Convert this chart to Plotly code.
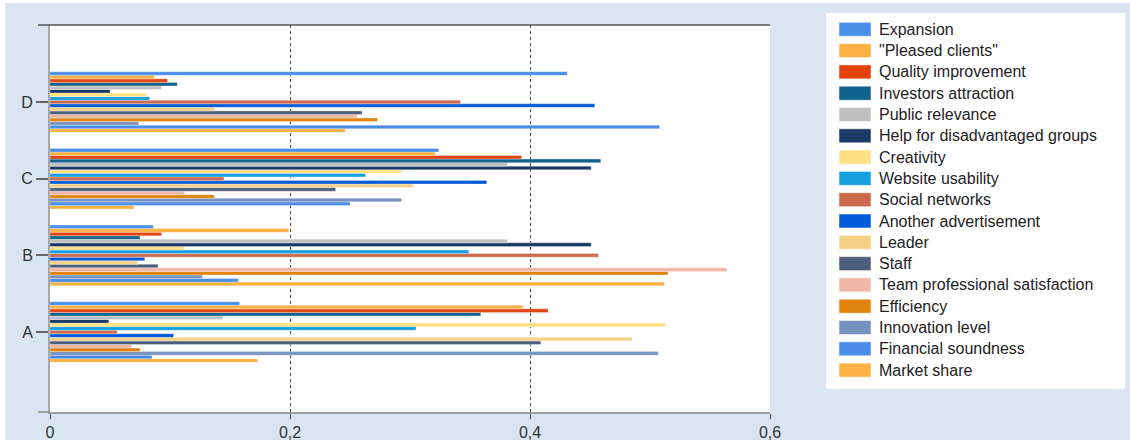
import plotly.graph_objects as go

categories = ["A", "B", "C", "D"]

series_names = [
    "Expansion", "\"Pleased clients\"", "Quality improvement", "Investors attraction",
    "Public relevance", "Help for disadvantaged groups", "Creativity", "Website usability",
    "Social networks", "Another advertisement", "Leader", "Staff",
    "Team professional satisfaction", "Efficiency", "Innovation level",
    "Financial soundness", "Market share",
]

expansion = [0.158, 0.086, 0.324, 0.431]
pleased_clients = [0.394, 0.199, 0.321, 0.087]
quality_improvement = [0.415, 0.093, 0.393, 0.098]
investors_attraction = [0.359, 0.075, 0.459, 0.106]
public_relevance = [0.144, 0.381, 0.381, 0.093]
help_disadvantaged = [0.049, 0.451, 0.451, 0.050]
creativity = [0.513, 0.112, 0.293, 0.080]
website_usability = [0.305, 0.349, 0.263, 0.083]
social_networks = [0.056, 0.457, 0.145, 0.342]
another_advertisement = [0.103, 0.079, 0.364, 0.454]
leader = [0.485, 0.073, 0.303, 0.137]
staff = [0.409, 0.090, 0.238, 0.260]
team_satisfaction = [0.068, 0.564, 0.112, 0.256]
efficiency = [0.075, 0.515, 0.137, 0.273]
innovation_level = [0.507, 0.127, 0.293, 0.074]
financial_soundness = [0.085, 0.157, 0.250, 0.508]
market_share = [0.173, 0.512, 0.070, 0.246]

series_values = [
    expansion, pleased_clients, quality_improvement, investors_attraction,
    public_relevance, help_disadvantaged, creativity, website_usability,
    social_networks, another_advertisement, leader, staff,
    team_satisfaction, efficiency, innovation_level,
    financial_soundness, market_share,
]

colors = [
    "#4A8FE8", "#FBB143", "#E2440F", "#11628E",
    "#C0C0C0", "#1B3866", "#FFE082", "#179FE0",
    "#CB6A4C", "#005AD8", "#F3D189", "#4E5F7E",
    "#F0B7A7", "#E0840E", "#7892BF", "#4A8EEA", "#FBB143",
]

tick_vals = [0, 0.2, 0.4, 0.6]
tick_text = ["0", "0,2", "0,4", "0,6"]

# ---- layout geometry (page pixels) ----
OX, OY = 5, 3                  # where the chart starts on the page
W, H = 1130 - OX, 440 - OY     # figure size
PL, PR, PT, PB = 50, 770, 25, 412   # plot area in page pixels
pw, ph = PR - PL, PB - PT


def px(xp):
    return (xp - PL) / pw


def py(yp):
    return (PB - yp) / ph


fig = go.Figure()
# add in reverse so the first series sits at the top of each group
for name, vals, col in reversed(list(zip(series_names, series_values, colors))):
    fig.add_trace(go.Bar(
        y=categories, x=vals, name=name, orientation="h",
        marker=dict(color=col, line=dict(color="rgba(255,255,255,0.6)", width=0.5)),
        showlegend=False,
    ))

font_family = "Liberation Sans, Arial, sans-serif"

fig.update_layout(
    width=W, height=H,
    barmode="group", bargap=0.21, bargroupgap=0,
    paper_bgcolor="#DAE5F1", plot_bgcolor="#FFFFFF",
    margin=dict(l=PL - OX, r=1130 - PR, t=PT - OY, b=440 - PB),
    font=dict(family=font_family, size=16, color="#333333"),
    showlegend=False,
    xaxis=dict(
        range=[0, 0.6], tickvals=tick_vals, ticktext=tick_text, showgrid=True,
        gridcolor="#444444", griddash="dot", gridwidth=1,
        showline=True, linecolor="#A0A0A0", linewidth=1.5,
        ticks="outside", ticklen=5, tickcolor="#444444", tickwidth=1,
        zeroline=False, automargin=False,
    ),
    yaxis=dict(
        range=[-1.043, 4.004], showgrid=False,
        showline=True, linecolor="#A8A8A8", linewidth=2,
        ticks="outside", ticklen=12, tickcolor="#666666", tickwidth=1.5,
        zeroline=False, automargin=False,
    ),
)

# top frame line and bottom-left extension
fig.add_shape(type="line", xref="paper", yref="paper", x0=px(38), x1=1,
              y0=1, y1=1, line=dict(color="#555555", width=1.5))
fig.add_shape(type="line", xref="paper", yref="paper", x0=px(38), x1=0,
              y0=0, y1=0, line=dict(color="#888888", width=1.5))

# custom legend box
fig.add_shape(type="rect", xref="paper", yref="paper",
              x0=px(826), x1=px(1125), y0=py(389), y1=py(13),
              fillcolor="#FFFFFF", line=dict(width=0), layer="below")
y0_item, step = 29.3, 21.3
for i, (name, col) in enumerate(zip(series_names, colors)):
    yc = y0_item + i * step
    fig.add_shape(type="rect", xref="paper", yref="paper",
                  x0=px(839), x1=px(871), y0=py(yc + 7), y1=py(yc - 7),
                  fillcolor=col, line=dict(color="rgba(255,255,255,0.5)", width=1))
    fig.add_annotation(xref="paper", yref="paper", x=px(877), y=py(yc),
                       xanchor="left", yanchor="middle", text=name, showarrow=False,
                       font=dict(family=font_family, size=16, color="#222222"))

fig.write_html(
    "out.html",
    post_script="document.body.style.margin='%dpx 0 0 %dpx';"
                "document.body.style.overflow='hidden';" % (OY, OX),
)
